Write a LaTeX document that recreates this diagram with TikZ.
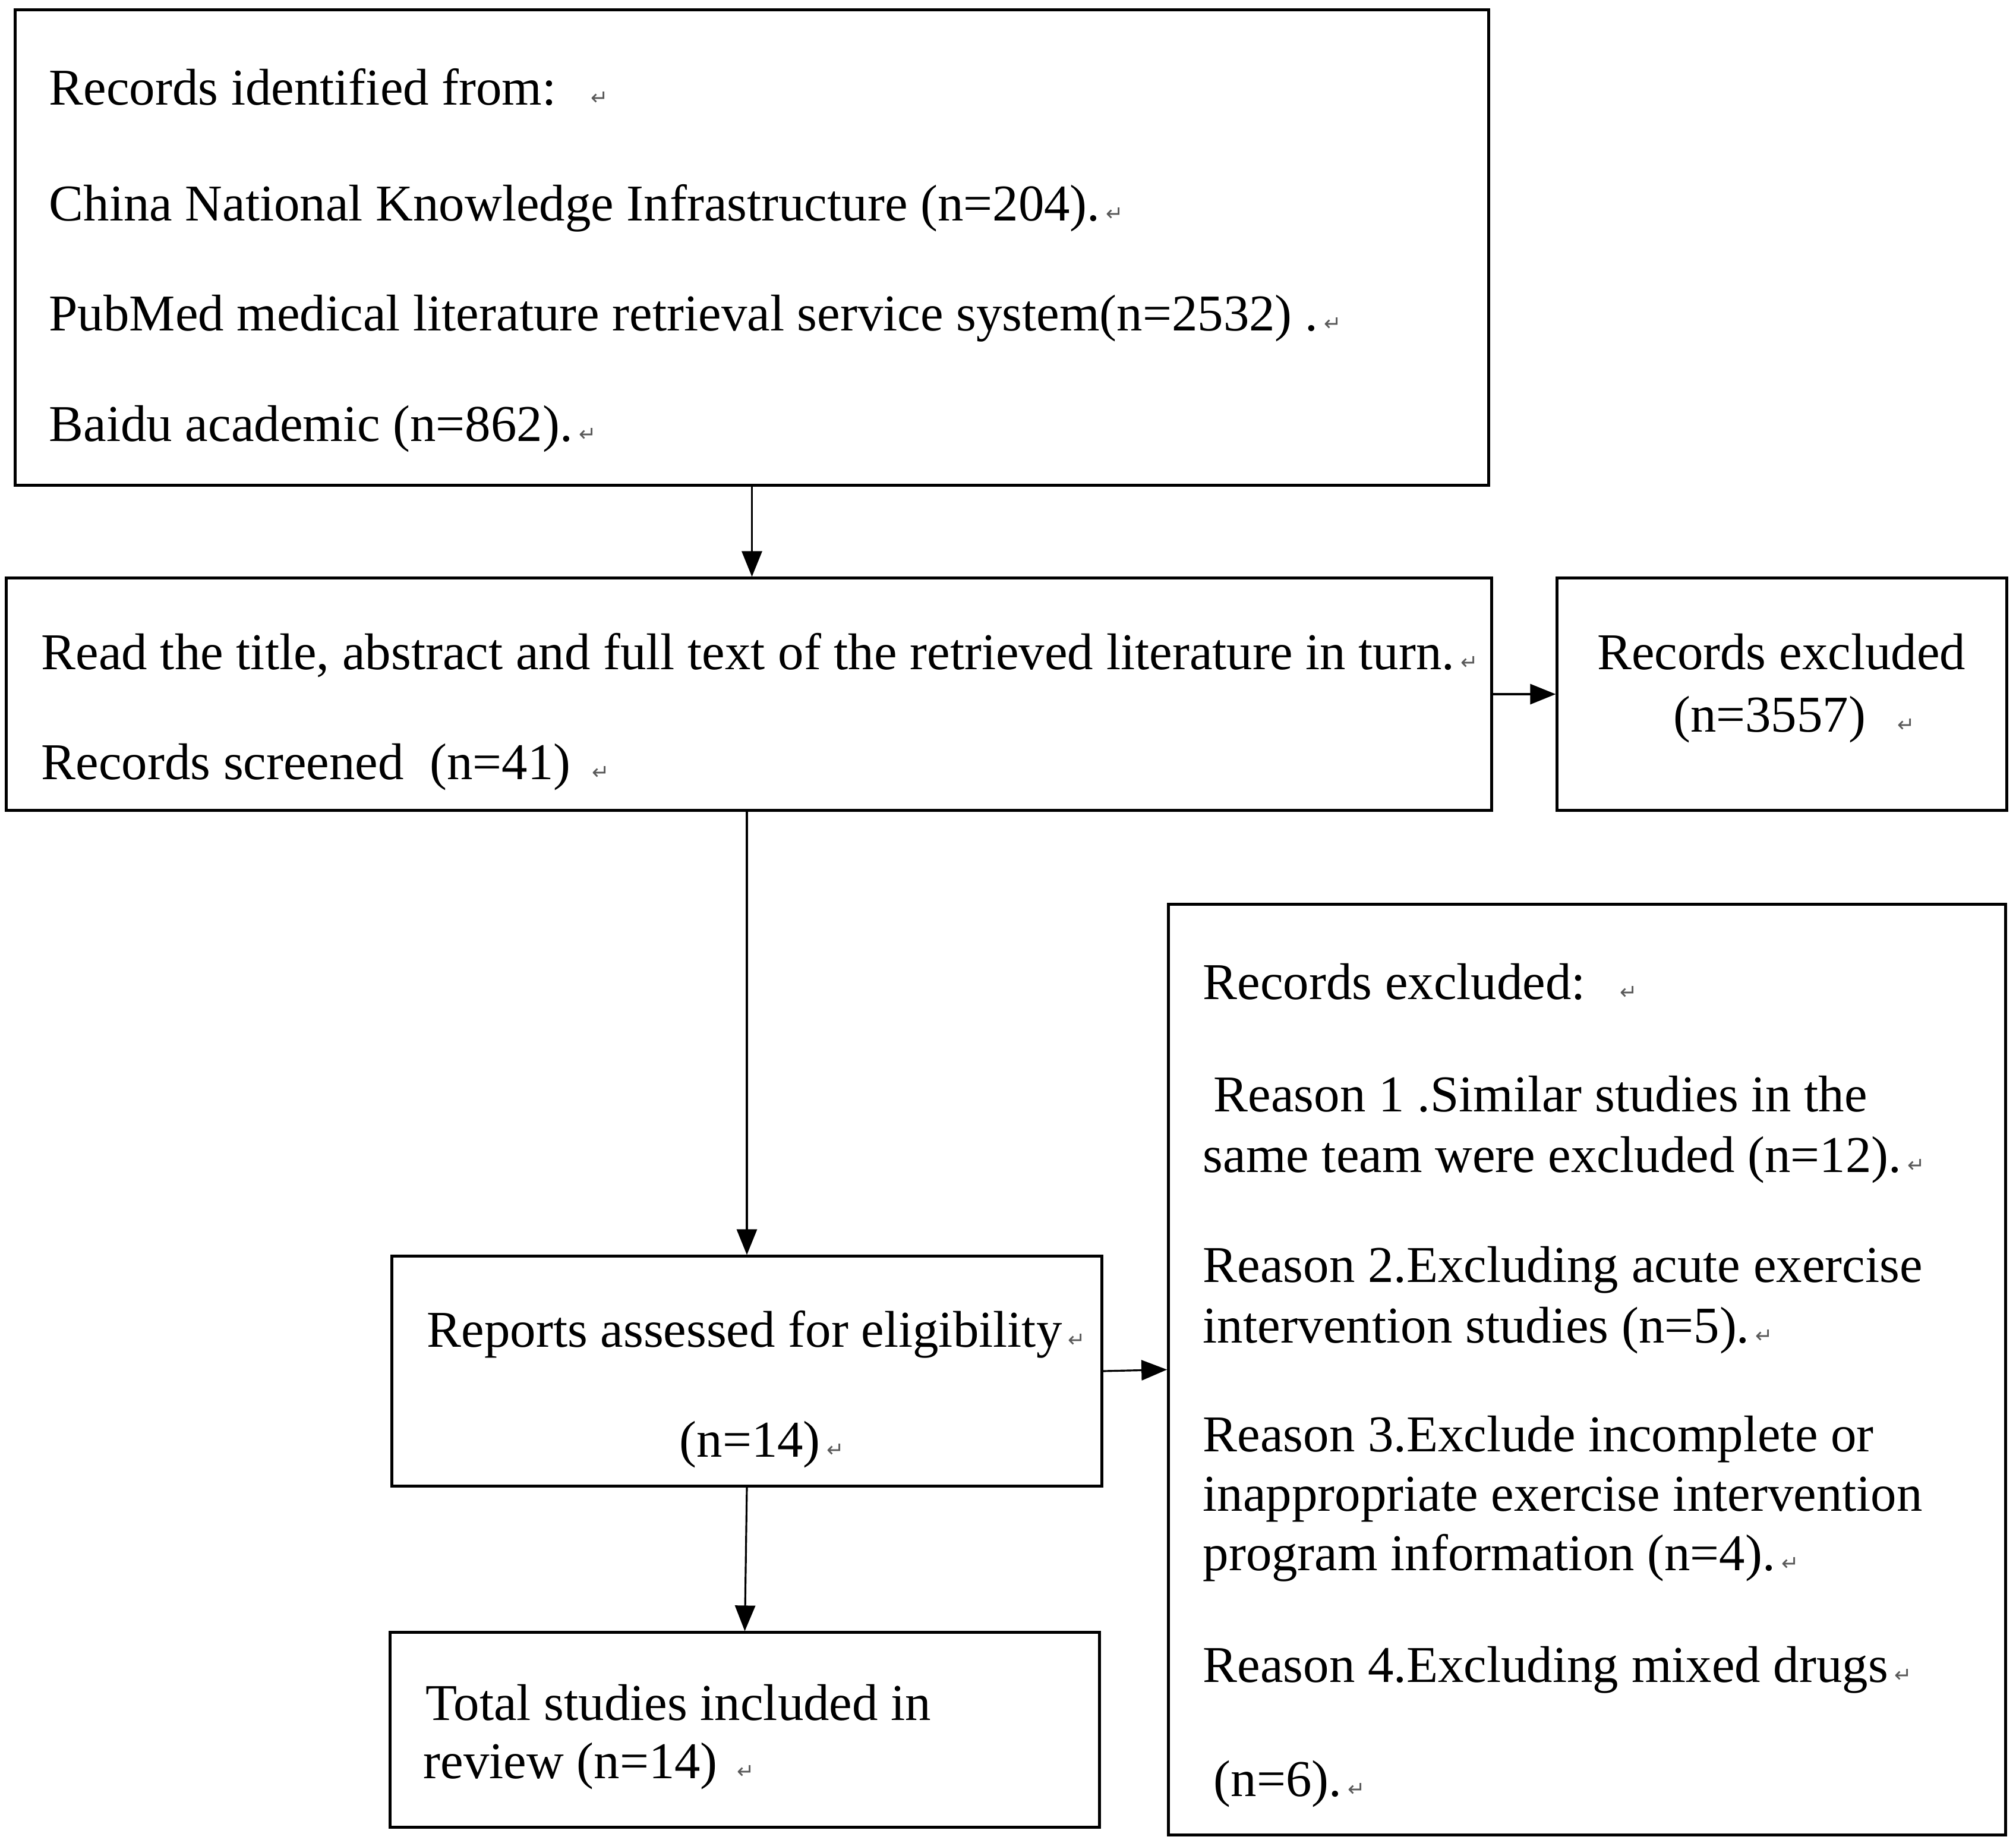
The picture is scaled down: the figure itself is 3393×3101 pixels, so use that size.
\documentclass[tikz,border=0pt]{standalone}
\usepackage{fontspec}
\setmainfont{Liberation Serif}
\newfontfamily\dejavu{DejaVu Sans}
\usetikzlibrary{arrows.meta}
\newcommand\retmark{\hspace{0.12em}{\dejavu\fontsize{10}{10}\selectfont\textcolor{black!65}{↵}}}
\newcommand\fsmain{\fontsize{24.7}{30}\selectfont}
\begin{document}
\begin{tikzpicture}[x=0.01cm,y=-0.01cm,
  box/.style={draw, line width=1.4pt, inner sep=0pt},
  txt/.style={anchor=base west, inner sep=0pt, font=\fsmain},
  ctxt/.style={anchor=base, inner sep=0pt, font=\fsmain},
  arr/.style={line width=0.9pt, -{Triangle[length=4.3mm, width=3.4mm]}}]
\useasboundingbox (0,0) rectangle (3393,3101);
\fill[white] (0,0) rectangle (3393,3101);
% boxes
\node[box, minimum width=24.79cm, minimum height=7.99cm] (b1) at (1265.5,416.5) {};
\node[box, minimum width=24.99cm, minimum height=3.90cm] (b2) at (1260.5,1168) {};
\node[box, minimum width=7.56cm, minimum height=3.90cm] (b3) at (2999,1168) {};
\node[box, minimum width=14.08cm, minimum height=15.65cm] (b4) at (2671,2304.5) {};
\node[box, minimum width=11.94cm, minimum height=3.86cm] (b5) at (1257,2307) {};
\node[box, minimum width=11.93cm, minimum height=3.27cm] (b6) at (1253.5,2910.5) {};
% box 1 text
\node[txt] (t11) at (82,177) {Records identified from:\hspace{0.55em}\retmark};
\node[txt] (t12) at (82,372) {China National Knowledge Infrastructure (n=204).\retmark};
\node[txt] (t13) at (82,557) {PubMed medical literature retrieval service system(n=2532) .\retmark};
\node[txt] (t14) at (82,743) {Baidu academic (n=862).\retmark};
% box 2 text
\node[txt] (t21) at (69,1127) {Read the title, abstract and full text of the retrieved literature in turn.\retmark};
\node[txt] (t22) at (69,1312) {Records screened\hspace{0.5em}(n=41)\hspace{0.3em}\retmark};
% box 3 text
\node[ctxt] (t31) at (2998,1127) {Records excluded};
\node[ctxt] (t32) at (2998,1232) {\hspace{0.5em}(n=3557)\hspace{0.5em}\retmark};
% box 4 text
\node[txt] (t41) at (2024,1682) {Records excluded:\hspace{0.55em}\retmark};
\node[txt] (t42) at (2042,1870) {Reason 1 .Similar studies in the};
\node[txt] (t43) at (2024,1972) {same team were excluded (n=12).\retmark};
\node[txt] (t44) at (2024,2157) {Reason 2.Excluding acute exercise};
\node[txt] (t45) at (2024,2259) {intervention studies (n=5).\retmark};
\node[txt] (t46) at (2024,2442) {Reason 3.Exclude incomplete or};
\node[txt] (t47) at (2024,2542) {inappropriate exercise intervention};
\node[txt] (t48) at (2024,2642) {program information (n=4).\retmark};
\node[txt] (t49) at (2024,2830) {Reason 4.Excluding mixed drugs\retmark};
\node[txt] (t410) at (2042,3022) {(n=6).\retmark};
% box 5 text
\node[txt] (t51) at (718,2266) {Reports assessed for eligibility\retmark};
\node[txt] (t52) at (1143,2451) {(n=14)\retmark};
% box 6 text
\node[txt] (t61) at (716,2894) {Total studies included in};
\node[txt] (t62) at (712,2992) {review (n=14) \retmark};
% connectors
\draw[arr] (b1.south) -- (b1.south |- b2.north);
\draw[arr] (b2.east) -- (b3.west);
\draw[arr] (b5.north |- b2.south) -- (b5.north);
\draw[arr] (b5.south) -- (b6.north);
\draw[arr] (b5.east) -- (b4.west);
\end{tikzpicture}
\end{document}
